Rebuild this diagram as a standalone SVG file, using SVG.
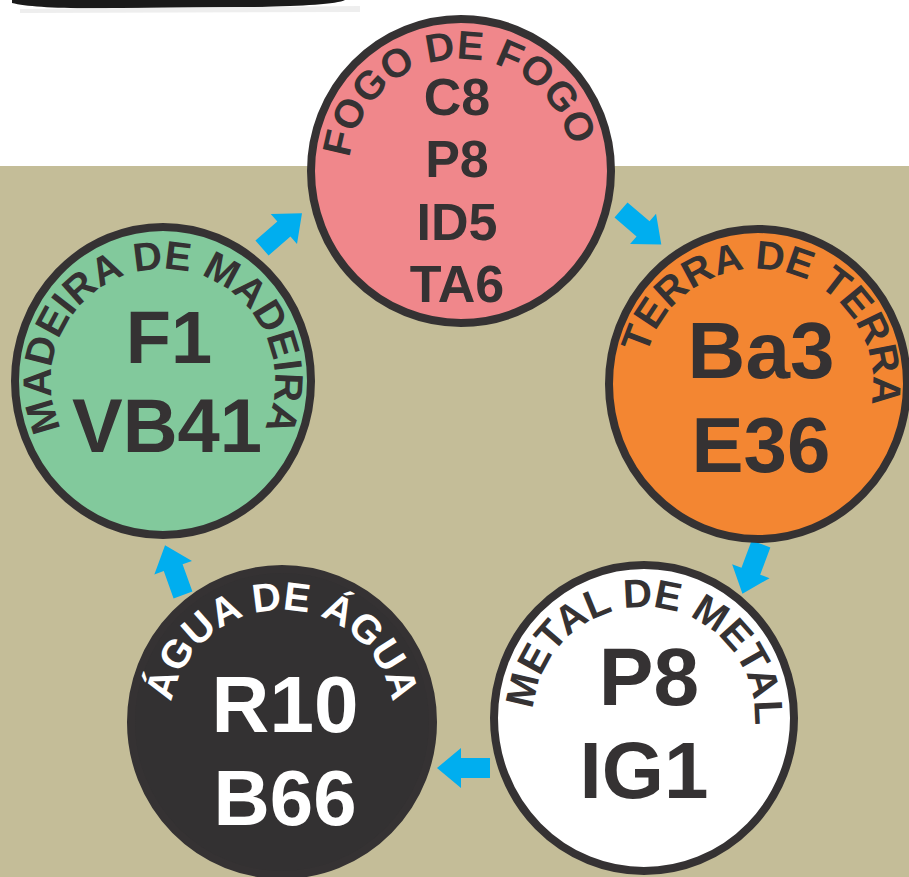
<svg xmlns="http://www.w3.org/2000/svg" width="909" height="877" viewBox="0 0 909 877">
<style>
.node{stroke:#353233;stroke-width:8}
.arc{font-family:"Liberation Sans",Arial,sans-serif;font-weight:bold;font-size:40px;fill:#353233}
.big{font-family:"Liberation Sans",Arial,sans-serif;font-weight:bold;text-anchor:middle;fill:#353233}
.w{fill:#ffffff}
.arrow{fill:#00aeef}
</style>
<defs>
<path id="arrow" d="M0,-10 H29 V-20 L53,0 L29,20 V10 H0 Z"/>
<path id="pFire" d="M461,283 A112,112 0 1 1 461,59 A112,112 0 1 1 461,283"/>
<path id="pEarth" d="M758,499 A115,115 0 1 1 758,269 A115,115 0 1 1 758,499"/>
<path id="pWood" d="M163,493 A112,112 0 1 1 163,269 A112,112 0 1 1 163,493"/>
<path id="pWater" d="M282,834 A112,112 0 1 1 282,610 A112,112 0 1 1 282,834"/>
<path id="pMetal" d="M644,829 A111,111 0 1 1 644,607 A111,111 0 1 1 644,829"/>
</defs>
<rect x="0" y="0" width="909" height="877" fill="#ffffff"/>
<rect x="0" y="166" width="909" height="711" fill="#c4bd98"/>
<path d="M12,0 L345,0 C338,4 300,6 262,7 L120,8 C62,9 28,7 12,3 Z" fill="#1a1a1a"/>
<path d="M20,9 L360,6 L360,12 L20,13 Z" fill="#eeeeee"/>
<g id="connectors">
<use href="#arrow" class="arrow" transform="translate(262,248) rotate(-41)"/>
<use href="#arrow" class="arrow" transform="translate(621,210) rotate(40.5)"/>
<use href="#arrow" class="arrow" transform="translate(761,544) rotate(110.5)"/>
<use href="#arrow" class="arrow" transform="translate(490,768) rotate(180)"/>
<use href="#arrow" class="arrow" transform="translate(183,595) rotate(-109.8)"/>
</g>
<g id="fogo">
<ellipse class="node" cx="461" cy="171" rx="150" ry="152" fill="#f0878b"/>
<text class="arc" transform="rotate(-3 461 171)"><textPath href="#pFire" startOffset="50%" text-anchor="middle">FOGO DE FOGO</textPath></text>
<text class="big" x="457" y="115" font-size="52">C8</text>
<text class="big" x="457" y="177" font-size="52">P8</text>
<text class="big" x="457" y="240" font-size="52">ID5</text>
<text class="big" x="457" y="302" font-size="52">TA6</text>
</g>
<g id="terra">
<ellipse class="node" cx="758" cy="384" rx="149" ry="155" fill="#f38632"/>
<text class="arc" transform="rotate(12.5 758 384)"><textPath href="#pEarth" startOffset="50%" text-anchor="middle">TERRA DE TERRA</textPath></text>
<text class="big" x="761" y="378" font-size="80">Ba3</text>
<text class="big" x="761" y="472" font-size="78">E36</text>
</g>
<g id="metal">
<ellipse class="node" cx="644" cy="718" rx="150" ry="153" fill="#ffffff"/>
<text class="arc" transform="rotate(4 644 718)"><textPath href="#pMetal" startOffset="50%" text-anchor="middle">METAL DE METAL</textPath></text>
<text class="big" x="649" y="705" font-size="82">P8</text>
<text class="big" x="644" y="798" font-size="80">IG1</text>
</g>
<g id="agua">
<ellipse class="node" cx="282" cy="722" rx="151" ry="153" fill="#333132"/>
<text class="arc w"><textPath href="#pWater" startOffset="50%" text-anchor="middle">ÁGUA DE ÁGUA</textPath></text>
<text class="big w" x="285" y="732" font-size="80">R10</text>
<text class="big w" x="285" y="825" font-size="78">B66</text>
</g>
<g id="madeira">
<ellipse class="node" cx="163" cy="381" rx="148" ry="154" fill="#82c99c"/>
<text class="arc"><textPath href="#pWood" startOffset="50%" text-anchor="middle">MADEIRA DE MADEIRA</textPath></text>
<text class="big" x="169" y="363" font-size="74">F1</text>
<text class="big" x="167" y="452" font-size="76">VB41</text>
</g>
</svg>
